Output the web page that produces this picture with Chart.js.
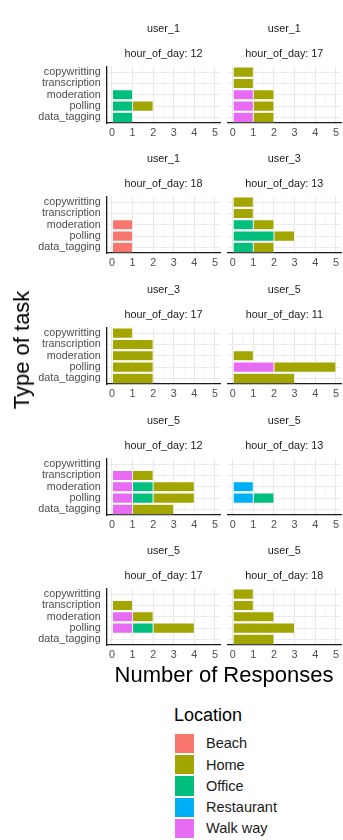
<!DOCTYPE html>
<html>
<head>
<meta charset="utf-8">
<title>Type of task by location</title>
<script src="https://cdn.jsdelivr.net/npm/chart.js@4.4.1/dist/chart.umd.min.js"></script>
<style>
  html, body { margin: 0; padding: 0; background: #ffffff; }
  body {
    width: 343px; height: 840px; position: relative; overflow: hidden;
    font-family: "Liberation Sans", Arial, Helvetica, sans-serif;
  }
  .panel { position: absolute; }
  #xtitle {
    position: absolute; left: 24px; width: 400px; top: 662px;
    text-align: center; font-size: 22px; line-height: 26px; color: #000;
    white-space: nowrap;
  }
  #ytitle {
    position: absolute; left: 22px; top: 350px;
    transform: translate(-50%, -50%) rotate(-90deg);
    font-size: 22px; line-height: 26px; color: #000; white-space: nowrap;
  }
  #legend-title {
    position: absolute; left: 174px; top: 704px;
    font-size: 18px; line-height: 22px; color: #000; white-space: nowrap;
  }
  .key { position: absolute; left: 175px; width: 19.3px; height: 19.3px; }
  .key-label {
    position: absolute; left: 206px; font-size: 14.5px; line-height: 18px;
    color: #1a1a1a; white-space: nowrap;
  }
</style>
</head>
<body>
<div id="panels"></div>
<div id="xtitle">Number of Responses</div>
<div id="ytitle">Type of task</div>
<div id="legend-title">Location</div>
<div id="legend"></div>

<script>
// ---- data ---------------------------------------------------------------
const categories = ['copywritting', 'transcription', 'moderation', 'polling', 'data_tagging'];
const locations = ['Beach', 'Home', 'Office', 'Restaurant', 'Walk way'];
const locationColors = ['#F8766D', '#A3A500', '#00BF7D', '#00B0F6', '#E76BF3'];

// one facet per (user, hour) pair
const users = ['user_1', 'user_1', 'user_1', 'user_3', 'user_3', 'user_5', 'user_5', 'user_5', 'user_5', 'user_5'];
const hours = [12, 17, 18, 13, 17, 11, 12, 13, 17, 18];

const xTicks = [0, 1, 2, 3, 4, 5];

// response counts per facet, in the order of `categories`
const beach = [
  [0, 0, 0, 0, 0], [0, 0, 0, 0, 0], [0, 0, 1, 1, 1], [0, 0, 0, 0, 0], [0, 0, 0, 0, 0],
  [0, 0, 0, 0, 0], [0, 0, 0, 0, 0], [0, 0, 0, 0, 0], [0, 0, 0, 0, 0], [0, 0, 0, 0, 0]
];
const home = [
  [0, 0, 0, 1, 0], [1, 1, 1, 1, 1], [0, 0, 0, 0, 0], [1, 1, 1, 1, 1], [1, 2, 2, 2, 2],
  [0, 0, 1, 3, 3], [0, 1, 2, 2, 2], [0, 0, 0, 0, 0], [0, 1, 1, 2, 0], [1, 1, 2, 3, 2]
];
const office = [
  [0, 0, 1, 1, 1], [0, 0, 0, 0, 0], [0, 0, 0, 0, 0], [0, 0, 1, 2, 1], [0, 0, 0, 0, 0],
  [0, 0, 0, 0, 0], [0, 0, 1, 1, 0], [0, 0, 0, 1, 0], [0, 0, 0, 1, 0], [0, 0, 0, 0, 0]
];
const restaurant = [
  [0, 0, 0, 0, 0], [0, 0, 0, 0, 0], [0, 0, 0, 0, 0], [0, 0, 0, 0, 0], [0, 0, 0, 0, 0],
  [0, 0, 0, 0, 0], [0, 0, 0, 0, 0], [0, 0, 1, 1, 0], [0, 0, 0, 0, 0], [0, 0, 0, 0, 0]
];
const walkWay = [
  [0, 0, 0, 0, 0], [0, 0, 1, 1, 1], [0, 0, 0, 0, 0], [0, 0, 0, 0, 0], [0, 0, 0, 0, 0],
  [0, 0, 0, 2, 0], [0, 1, 1, 1, 1], [0, 0, 0, 0, 0], [0, 0, 1, 1, 0], [0, 0, 0, 0, 0]
];

// ---- drawing ------------------------------------------------------------
const countsByLocation = [beach, home, office, restaurant, walkWay];
// segments stack outward from zero in reverse legend order
const stackOrder = [4, 3, 2, 1, 0];

const FONT = '"Liberation Sans", Arial, Helvetica, sans-serif';
Chart.defaults.font.family = FONT;

// facet grid geometry (CSS px)
const PLOT_TOP = 66.7, ROW_STEP = 130.65, PLOT_H = 56;
const HEAD_H = 46, FOOT_H = 22;
const colCanvasLeft = [0, 220];
const colCanvasWidth = [222, 123];
const colAreaLeft = [106.8, 227.5];
const colAreaRight = [220.5, 341.2];

// gridlines: majors at the tick values, minors half way between them
const gridValues = xTicks.flatMap((v, i) => i ? [(xTicks[i - 1] + v) / 2, v] : [v]);

const host = document.getElementById('panels');

users.forEach((user, i) => {
  const row = Math.floor(i / 2), col = i % 2;
  const plotTop = PLOT_TOP + row * ROW_STEP;
  const w = colCanvasWidth[col], h = HEAD_H + PLOT_H + FOOT_H;

  const canvas = document.createElement('canvas');
  canvas.className = 'panel';
  canvas.width = w; canvas.height = h;
  canvas.style.left = colCanvasLeft[col] + 'px';
  canvas.style.top = (plotTop - HEAD_H) + 'px';
  canvas.style.width = w + 'px';
  canvas.style.height = h + 'px';
  host.appendChild(canvas);

  const datasets = stackOrder.map(k => ({
    label: locations[k],
    data: countsByLocation[k][i].map(v => v === 0 ? null : v),
    backgroundColor: locationColors[k],
    borderColor: 'rgba(255,255,255,0.85)',
    borderWidth: 0.5,
    borderSkipped: false,
    categoryPercentage: 0.9,
    barPercentage: 1.0
  }));

  const yLabelWidth = colAreaLeft[col] - colCanvasLeft[col];
  const rightPad = colCanvasLeft[col] + w - colAreaRight[col];
  const stripFont = { size: 10.8, weight: 'normal', lineHeight: 1.2, family: FONT };

  new Chart(canvas, {
    type: 'bar',
    data: { labels: categories, datasets },
    options: {
      indexAxis: 'y',
      responsive: false,
      animation: false,
      events: [],
      layout: { padding: { left: 0, right: rightPad, top: 0, bottom: 0 } },
      plugins: {
        legend: { display: false },
        tooltip: { enabled: false },
        title: {
          display: true, text: user, fullSize: false, color: '#1a1a1a',
          font: stripFont, padding: { top: 1.7, bottom: 11.8 }
        },
        subtitle: {
          display: true, text: 'hour_of_day: ' + hours[i], fullSize: false, color: '#1a1a1a',
          font: stripFont, padding: { top: 0, bottom: 6.1 }
        }
      },
      scales: {
        x: {
          type: 'linear', stacked: true, min: -0.25, max: 5.25,
          afterBuildTicks: s => { s.ticks = gridValues.map(v => ({ value: v })); },
          afterFit: s => { s.height = FOOT_H; },
          ticks: {
            autoSkip: false, maxRotation: 0, padding: 4, color: '#4d4d4d',
            font: { size: 10.8, family: FONT },
            callback: v => xTicks.includes(v) ? String(v) : ''
          },
          grid: {
            drawTicks: false,
            color: c => xTicks.includes(c.tick && c.tick.value) ? '#e8e8e8' : '#f4f4f4',
            lineWidth: c => xTicks.includes(c.tick && c.tick.value) ? 1 : 0.6
          },
          border: { display: true, color: '#1a1a1a', width: 1.3 }
        },
        y: {
          type: 'category', stacked: true, offset: true,
          afterFit: s => { s.width = yLabelWidth; },
          ticks: {
            display: col === 0, autoSkip: false, padding: 6, color: '#4d4d4d',
            font: { size: 10.8, family: FONT }
          },
          grid: { offset: false, drawTicks: false, color: '#ebebeb', lineWidth: 1 },
          border: { display: col === 0, color: '#1a1a1a', width: 1.3 }
        }
      }
    }
  });
});

// legend keys
const legend = document.getElementById('legend');
const KEY_TOP = 733.8, KEY_STEP = 21.25;
locations.forEach((name, k) => {
  const key = document.createElement('div');
  key.className = 'key';
  key.style.top = (KEY_TOP + k * KEY_STEP) + 'px';
  key.style.background = locationColors[k];
  legend.appendChild(key);
  const label = document.createElement('div');
  label.className = 'key-label';
  label.style.top = (KEY_TOP + k * KEY_STEP + 0.65) + 'px';
  label.textContent = name;
  legend.appendChild(label);
});
</script>
</body>
</html>
